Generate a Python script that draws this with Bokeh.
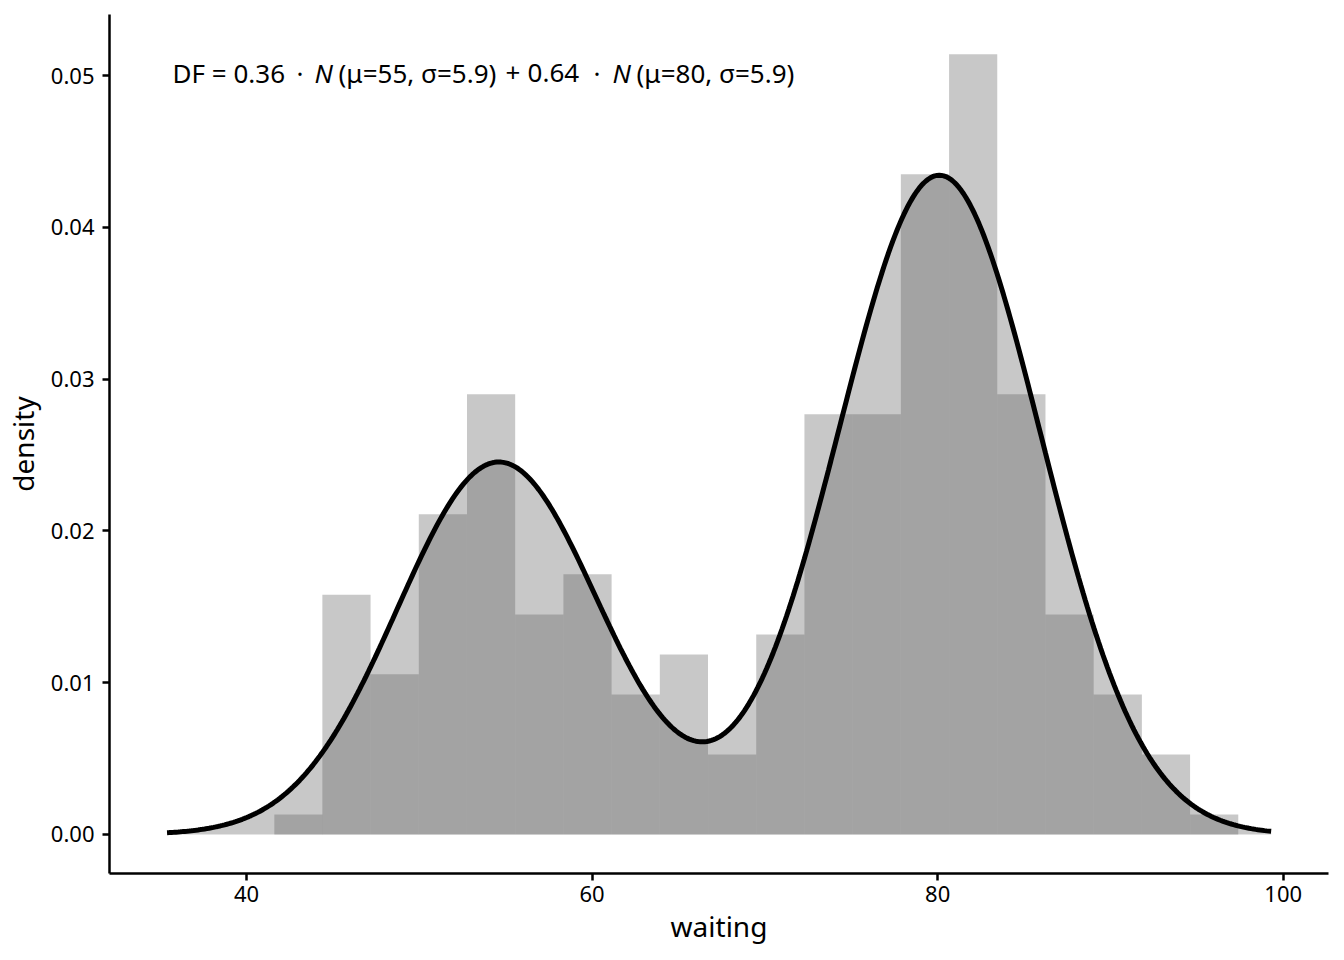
import numpy as np
from bokeh.plotting import figure
from bokeh.models import Range1d, FixedTicker, NumeralTickFormatter, Label
from bokeh.embed import file_html
from bokeh.resources import INLINE

# histogram (Old Faithful waiting, 20 bins) -- densities
bin_left = [41.61, 44.39, 47.18, 49.97, 52.76, 55.55, 58.34, 61.13, 63.92, 66.71,
            69.50, 72.29, 75.08, 77.87, 80.66, 83.45, 86.24, 89.03, 91.82, 94.61]
bin_width = 2.789
density = [0.00132, 0.0158, 0.01055, 0.0211, 0.0290, 0.0145, 0.01714, 0.00923, 0.01186, 0.00527,
           0.01318, 0.02768, 0.02768, 0.0435, 0.0514, 0.0290, 0.0145, 0.00923, 0.00527, 0.00132]

# fitted mixture parameters (as stated in the annotation)
mix_weights = [0.361, 0.639]
mix_means = [54.6, 80.1]
mix_sds = [5.87, 5.87]
curve_from, curve_to = 35.4, 99.3

x_ticks = [40, 60, 80, 100]
y_ticks = [0.0, 0.01, 0.02, 0.03, 0.04, 0.05]

FONT = "Noto Sans"

p = figure(width=1336, height=952, output_backend="svg", toolbar_location=None,
           x_range=Range1d(32.07, 102.62), y_range=Range1d(-0.00257, 0.05402),
           min_border_left=109, min_border_right=8, min_border_top=14, min_border_bottom=79)
p.outline_line_color = None
p.grid.visible = False
p.background_fill_color = "white"

fill_col = "#575757"
fill_alpha = 0.327

left = np.array(bin_left)
p.quad(left=left, right=left + bin_width, bottom=0, top=density,
       fill_color=fill_col, fill_alpha=fill_alpha, line_color=None)

xs = np.linspace(curve_from, curve_to, 500)
ys = np.zeros_like(xs)
for w, m, s in zip(mix_weights, mix_means, mix_sds):
    ys += w * np.exp(-0.5 * ((xs - m) / s) ** 2) / (s * np.sqrt(2 * np.pi))

p.varea(x=xs, y1=0, y2=ys, fill_color=fill_col, fill_alpha=fill_alpha)
p.line(xs, ys, line_color="black", line_width=5)

for ax in (p.xaxis[0], p.yaxis[0]):
    ax.axis_line_color = "black"
    ax.axis_line_width = 2.5
    ax.major_tick_line_color = "black"
    ax.major_tick_line_width = 2.5
    ax.major_tick_out = 7
    ax.major_tick_in = 0
    ax.minor_tick_line_color = None
    ax.major_label_text_font = FONT
    ax.major_label_text_font_size = "22px"
    ax.major_label_text_color = "black"
    ax.axis_label_text_font = FONT
    ax.axis_label_text_font_size = "28px"
    ax.axis_label_text_font_style = "normal"
    ax.axis_label_text_color = "black"

p.xaxis.ticker = FixedTicker(ticks=x_ticks)
p.yaxis.ticker = FixedTicker(ticks=y_ticks)
p.yaxis.formatter = NumeralTickFormatter(format="0.00")
p.xaxis.axis_label = "waiting"
p.yaxis.axis_label = "density"
p.xaxis.major_label_standoff = 5
p.yaxis.major_label_standoff = 8
p.xaxis.axis_label_standoff = 2
p.yaxis.axis_label_standoff = 6

# annotation pieces (italic N), offsets in px from the anchor
pieces = [("DF = 0.36", "normal", 0), ("·", "normal", 124), ("N", "italic", 142),
          ("(μ=55, σ=5.9)", "normal", 166), ("+", "normal", 333), ("0.64", "normal", 355),
          ("·", "normal", 421), ("N", "italic", 440), ("(μ=80, σ=5.9)", "normal", 464)]
for txt, style, off in pieces:
    p.add_layout(Label(x=35.72, y=0.04954, x_offset=off, y_offset=10, text=txt, text_font=FONT,
                       text_font_size="26px", text_font_style=style, text_color="black",
                       text_baseline="alphabetic"))

open("out.html", "w").write(file_html(p, INLINE))
